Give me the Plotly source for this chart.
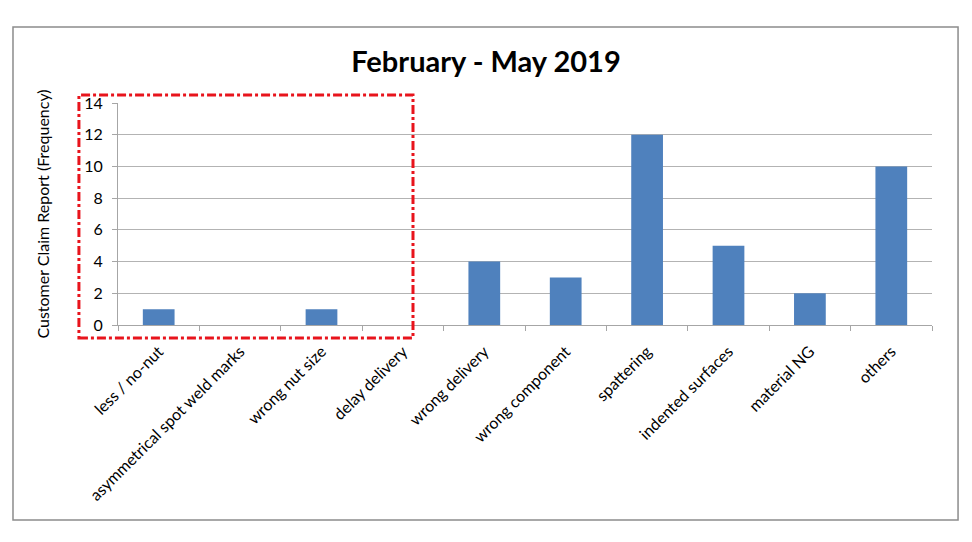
import plotly.graph_objects as go

categories = ["less / no-nut", "asymmetrical spot weld marks", "wrong nut size", "delay delivery",
              "wrong delivery", "wrong component", "spattering", "indented surfaces", "material NG", "others"]
frequency = [1, 0, 1, 0, 4, 3, 12, 5, 2, 10]
y_ticks = [0, 2, 4, 6, 8, 10, 12, 14]

fig = go.Figure(go.Bar(x=categories, y=frequency, marker=dict(color="#4f81bd", line=dict(width=0)),
                       width=0.39))

FONT = "Lato, 'Open Sans', sans-serif"
fig.update_layout(
    width=972, height=542,
    margin=dict(l=118, r=40, t=103, b=217),
    paper_bgcolor="white", plot_bgcolor="white",
    showlegend=False,
    title=dict(text="<b>February - May 2019</b>", x=0.5, xanchor="center", y=0.885, yanchor="middle",
               font=dict(family=FONT, size=29, color="black")),
    font=dict(family=FONT, size=16, color="black"),
)
fig.update_xaxes(range=[-0.5, 9.5], tickangle=-45, showline=True, linecolor="#a6a6a6", linewidth=1,
                 ticks="outside", ticklen=5, tickcolor="#a6a6a6", tickson="boundaries",
                 ticklabelstandoff=10,
                 tickfont=dict(family=FONT, size=16, color="black"), showgrid=False)
fig.update_yaxes(range=[0, 14], tickvals=y_ticks, showline=True, linecolor="#a6a6a6", linewidth=1,
                 ticks="outside", ticklen=5, tickcolor="#a6a6a6", gridcolor="#b3b3b3", gridwidth=1,
                 ticklabelstandoff=6,
                 zeroline=False, tickfont=dict(family=FONT, size=16, color="black"),
                 title=dict(text="Customer Claim Report (Frequency)", standoff=30,
                            font=dict(family=FONT, size=16, color="black")))

# outer chart border
fig.add_shape(type="rect", xref="paper", yref="paper", x0=-0.129, x1=1.032, y0=-0.878, y1=1.342,
              line=dict(color="#8c8c8c", width=1.5), fillcolor="rgba(0,0,0,0)", layer="below")
# red dash-dot highlight box
fig.add_shape(type="rect", xref="paper", yref="paper", x0=-0.048, x1=0.3624, y0=-0.0586, y1=1.036,
              line=dict(color="#e8141c", width=3, dash="dashdot"), fillcolor="rgba(0,0,0,0)")

fig.write_html("out.html")
